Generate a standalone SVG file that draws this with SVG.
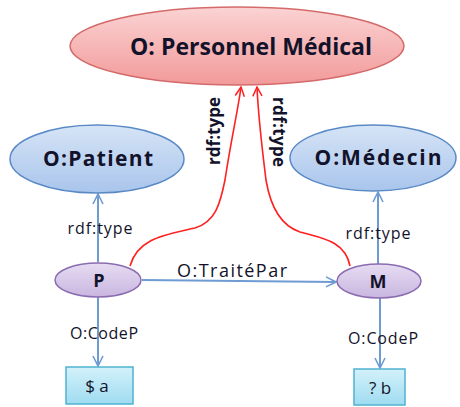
<svg xmlns="http://www.w3.org/2000/svg" width="460" height="407" viewBox="0 0 460 407">
  <defs>
    <linearGradient id="gRed" x1="0" y1="0" x2="0" y2="1">
      <stop offset="0" stop-color="#fbd3d3"/>
      <stop offset="1" stop-color="#f29a9a"/>
    </linearGradient>
    <linearGradient id="gBlue" x1="0" y1="0" x2="0" y2="1">
      <stop offset="0" stop-color="#d6e4f6"/>
      <stop offset="1" stop-color="#a9c5ec"/>
    </linearGradient>
    <linearGradient id="gPurple" x1="0" y1="0" x2="0" y2="1">
      <stop offset="0" stop-color="#e6dcf2"/>
      <stop offset="1" stop-color="#c9b6e0"/>
    </linearGradient>
    <linearGradient id="gCyan" x1="0" y1="0" x2="0" y2="1">
      <stop offset="0" stop-color="#d3f1fa"/>
      <stop offset="1" stop-color="#9fdcf1"/>
    </linearGradient>
    <marker id="arrBlue" viewBox="0 0 12 12" refX="11" refY="6" markerWidth="12" markerHeight="12" markerUnits="userSpaceOnUse" orient="auto">
      <path d="M1,1 L11,6 L1,11" fill="none" stroke="#6f9bd3" stroke-width="1.6"/>
    </marker>
    <marker id="arrRed" viewBox="0 0 12 12" refX="11" refY="6" markerWidth="11" markerHeight="11" markerUnits="userSpaceOnUse" orient="auto">
      <path d="M1,1 L11,6 L1,11" fill="none" stroke="#ff2020" stroke-width="1.6"/>
    </marker>
  </defs>
  <style>
    text { font-family: "Open Sans", "Liberation Sans", sans-serif; fill: #12122a; text-anchor: middle; }
    .big { font-weight: bold; font-size: 23px; }
    .cls { font-weight: bold; font-size: 21px; }
    .var { font-weight: bold; font-size: 18px; }
    .lbl { font-size: 16px; }
    .rot { font-weight: bold; font-size: 17px; }
    .lit { font-size: 17px; }
    .edge { fill: none; stroke: #6f9bd3; stroke-width: 2; }
    .red { fill: none; stroke: #ff2020; stroke-width: 1.6; }
  </style>

  <g id="connectors">
    <line class="edge" x1="98" y1="262" x2="98" y2="194" marker-end="url(#arrBlue)"/>
    <line class="edge" x1="378" y1="264" x2="378" y2="192" marker-end="url(#arrBlue)"/>
    <line class="edge" x1="142" y1="280" x2="336" y2="282" marker-end="url(#arrBlue)"/>
    <line class="edge" x1="98" y1="297" x2="98" y2="366" marker-end="url(#arrBlue)"/>
    <line class="edge" x1="380" y1="298" x2="380" y2="368" marker-end="url(#arrBlue)"/>
    <path class="red" d="M130,266 C138,238 165,235 195,228 C215,222 220,205 225,180 C231,140 238,110 241,87" marker-end="url(#arrRed)"/>
    <path class="red" d="M350,266 C345,240 320,238 300,232 C282,226 271,210 266,180 C261,140 258,110 257,87" marker-end="url(#arrRed)"/>
    <text class="lbl" x="100" y="234" textLength="65">rdf:type</text>
    <text class="lbl" x="378" y="239" textLength="65">rdf:type</text>
    <text class="lbl" x="232" y="277" style="font-size:18px" textLength="110">O:TraitéPar</text>
    <text class="lbl" x="104" y="339" textLength="68">O:CodeP</text>
    <text class="lbl" x="383" y="344" textLength="70">O:CodeP</text>
    <text class="rot" transform="translate(220,131) rotate(-90)" textLength="68">rdf:type</text>
    <text class="rot" transform="translate(273,132) rotate(90)" textLength="70">rdf:type</text>
  </g>

  <g id="personnel-medical">
    <ellipse cx="237" cy="46" rx="167" ry="39" fill="url(#gRed)" stroke="#d46a6a" stroke-width="1.5"/>
    <text class="big" x="251" y="55" textLength="242">O: Personnel Médical</text>
  </g>
  <g id="patient">
    <ellipse cx="97" cy="159" rx="87" ry="34" fill="url(#gBlue)" stroke="#5a8ac6" stroke-width="1.5"/>
    <text class="cls" x="98" y="166" textLength="110">O:Patient</text>
  </g>
  <g id="medecin">
    <ellipse cx="373" cy="158" rx="83" ry="33" fill="url(#gBlue)" stroke="#5a8ac6" stroke-width="1.5"/>
    <text class="cls" x="378" y="165" textLength="127">O:Médecin</text>
  </g>
  <g id="p">
    <ellipse cx="98" cy="280" rx="43" ry="17" fill="url(#gPurple)" stroke="#8a6cb0" stroke-width="1.5"/>
    <text class="var" x="99" y="287">P</text>
  </g>
  <g id="m">
    <ellipse cx="379" cy="281" rx="42" ry="17" fill="url(#gPurple)" stroke="#8a6cb0" stroke-width="1.5"/>
    <text class="var" x="378" y="288">M</text>
  </g>
  <g id="a">
    <rect x="66" y="367" width="67" height="37" fill="url(#gCyan)" stroke="#4fb3cf" stroke-width="1.5"/>
    <text class="lit" x="97" y="392">$ a</text>
  </g>
  <g id="b">
    <rect x="354" y="369" width="51" height="36" fill="url(#gCyan)" stroke="#4fb3cf" stroke-width="1.5"/>
    <text class="lit" x="380" y="394">? b</text>
  </g>
</svg>
